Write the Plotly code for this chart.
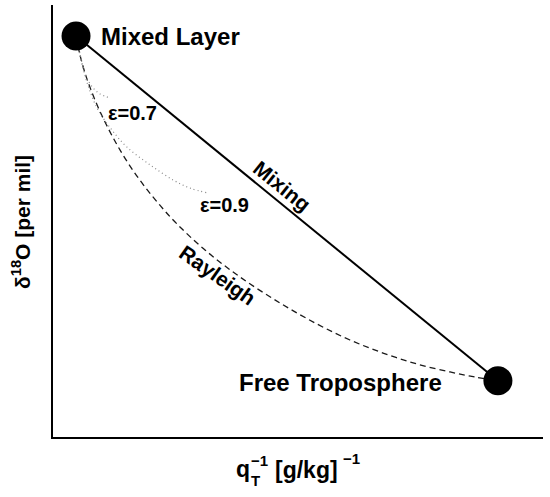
import plotly.graph_objects as go

# Schematic units (x: inverse humidity, y: delta18O), axis range 0..10
end_names = ["Mixed Layer", "Free Troposphere"]
end_x = [0.47, 9.08]
end_y = [9.28, 1.30]

rayleigh_x = [0.469, 0.551, 0.653, 0.776, 0.918, 1.082, 1.286, 1.531, 1.816, 2.143, 2.531,
              3.102, 3.816, 4.633, 5.388, 6.061, 6.735, 7.429, 8.102, 8.612, 9.082]
rayleigh_y = [9.282, 8.843, 8.426, 8.032, 7.639, 7.245, 6.806, 6.343, 5.880, 5.417, 4.931,
              4.329, 3.704, 3.102, 2.616, 2.245, 1.944, 1.690, 1.505, 1.389, 1.296]

eps07_x = [0.47, 0.55, 0.59, 0.69, 0.82, 0.96, 1.16]
eps07_y = [9.28, 8.89, 8.66, 8.31, 8.08, 7.94, 7.85]

eps09_x = [0.47, 0.55, 0.65, 0.76, 0.92, 1.20, 1.51, 1.98, 2.45, 2.80, 3.16]
eps09_y = [9.28, 8.84, 8.38, 7.99, 7.57, 7.11, 6.71, 6.30, 5.95, 5.76, 5.65]

FONT = "Liberation Sans"

fig = go.Figure()
fig.add_trace(go.Scatter(x=rayleigh_x, y=rayleigh_y, mode="lines", line_shape="spline",
                         line=dict(color="#1a1a1a", width=1.3, dash="6px,4px"), showlegend=False))
fig.add_trace(go.Scatter(x=eps07_x, y=eps07_y, mode="lines", line_shape="spline",
                         line=dict(color="#888", width=1.2, dash="1px,3px"), showlegend=False))
fig.add_trace(go.Scatter(x=eps09_x, y=eps09_y, mode="lines", line_shape="spline",
                         line=dict(color="#888", width=1.2, dash="1px,3px"), showlegend=False))
fig.add_trace(go.Scatter(x=end_x, y=end_y, mode="lines",
                         line=dict(color="black", width=2), showlegend=False))
fig.add_trace(go.Scatter(x=end_x, y=end_y, mode="markers",
                         marker=dict(color="black", size=29), showlegend=False))

bold = dict(family=FONT, color="black", weight="bold")

fig.add_annotation(x=0.94, y=9.26, text=end_names[0], showarrow=False, xanchor="left",
                   yanchor="middle", font=dict(size=24, **bold))
fig.add_annotation(x=7.98, y=1.27, text=end_names[1], showarrow=False, xanchor="right",
                   yanchor="middle", font=dict(size=24, **bold))
fig.add_annotation(x=4.69, y=5.81, text="Mixing", showarrow=False, textangle=39,
                   font=dict(size=21, **bold))
fig.add_annotation(x=3.37, y=3.75, text="Rayleigh", showarrow=False, textangle=35,
                   font=dict(size=21, **bold))
fig.add_annotation(x=1.63, y=7.50, text="ε=0.7", showarrow=False,
                   font=dict(size=20, **bold))
fig.add_annotation(x=3.51, y=5.37, text="ε=0.9", showarrow=False,
                   font=dict(size=20, **bold))

# axis titles
fig.add_annotation(xref="paper", yref="paper", x=(21 - 53) / 490, y=(437 - 222) / 432,
                   xanchor="center", yanchor="middle",
                   text="δ<sup>18</sup>O [per mil]", textangle=-90, showarrow=False,
                   font=dict(size=21, **bold))
# x title with stacked sub/superscript
fig.add_annotation(xref="paper", yref="paper", x=(234 - 53) / 490, y=(437 - 469) / 432,
                   text="q", xanchor="left", yanchor="middle", showarrow=False,
                   font=dict(size=23, **bold))
fig.add_annotation(xref="paper", yref="paper", x=(249 - 53) / 490, y=(437 - 460) / 432,
                   text="−1", xanchor="left", yanchor="middle", showarrow=False,
                   font=dict(size=15, **bold))
fig.add_annotation(xref="paper", yref="paper", x=(249 - 53) / 490, y=(437 - 480) / 432,
                   text="T", xanchor="left", yanchor="middle", showarrow=False,
                   font=dict(size=15, **bold))
fig.add_annotation(xref="paper", yref="paper", x=(273 - 53) / 490, y=(437 - 470) / 432,
                   text="[g/kg]", xanchor="left", yanchor="middle", showarrow=False,
                   font=dict(size=23, **bold))
fig.add_annotation(xref="paper", yref="paper", x=(341 - 53) / 490, y=(437 - 459) / 432,
                   text="−1", xanchor="left", yanchor="middle", showarrow=False,
                   font=dict(size=15, **bold))

axis_common = dict(showgrid=False, zeroline=False, showticklabels=False, ticks="",
                   showline=True, linecolor="black", linewidth=2, fixedrange=True)
fig.update_xaxes(range=[0, 10], **axis_common)
fig.update_yaxes(range=[0, 10], **axis_common)

fig.update_layout(width=550, height=497, margin=dict(l=53, r=7, t=5, b=60),
                  paper_bgcolor="white", plot_bgcolor="white",
                  font=dict(family=FONT))
fig.write_html("out.html", config={"displayModeBar": False},
               post_script="document.body.style.margin='0';")
